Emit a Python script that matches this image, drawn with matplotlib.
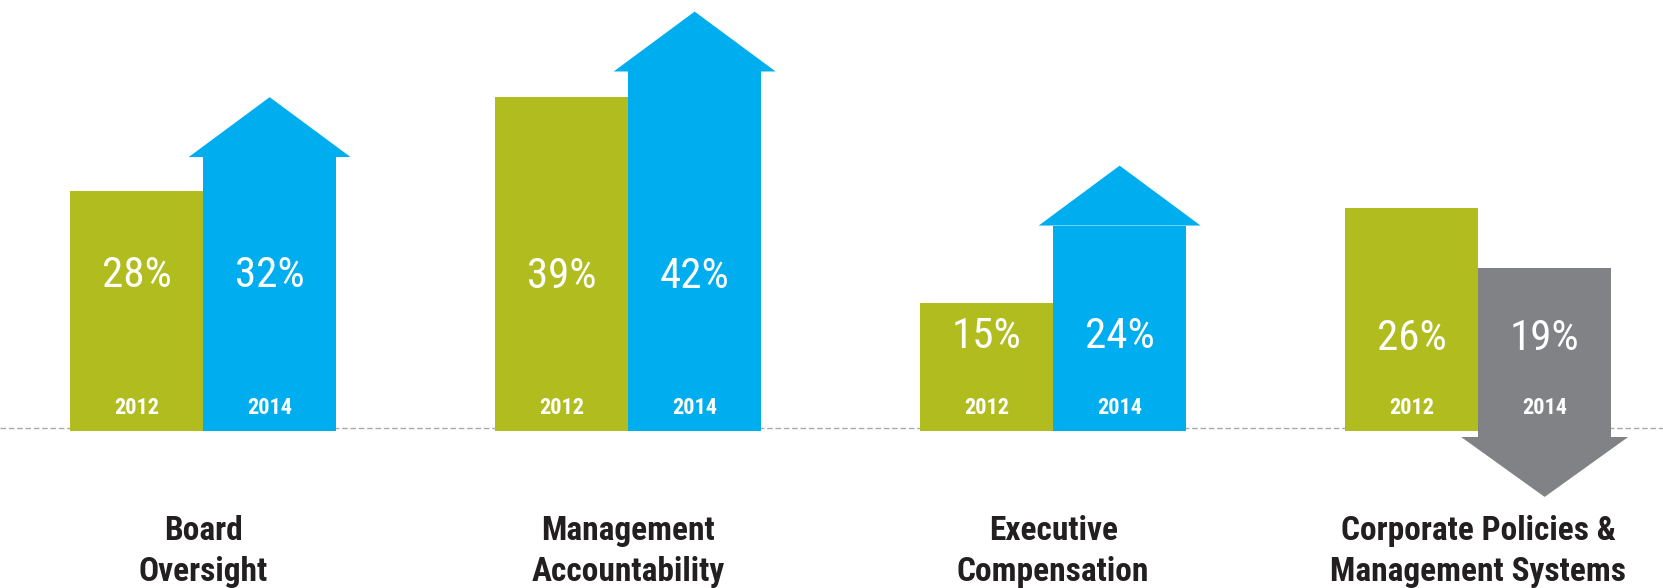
import matplotlib
matplotlib.use("Agg")

import matplotlib.pyplot as plt
from matplotlib.patches import Polygon

# ---------------------------
# Data
# ---------------------------
categories = ["Board\nOversight", "Management\nAccountability",
              "Executive\nCompensation", "Corporate Policies &\nManagement Systems"]
values_2012 = [28, 39, 15, 26]
values_2014 = [32, 42, 24, 19]
years = ["2012", "2014"]

# ---------------------------
# Style / layout
# ---------------------------
GREEN = "#B1BC1F"
BLUE = "#00AEEF"
GREY = "#808285"
TEXT_DARK = "#231F20"

BAR_W = 0.313          # width of one bar (group spacing = 1)
HEAD_OVER = 0.034      # how far an arrow head sticks out on each side
HEAD_H = 7.0           # arrow head height in value units
PCT_Y = [18.2, 18.0, 11.0, 10.8]   # where the percent labels sit
YEAR_Y = 2.7

NARROW = ["Roboto Condensed", "Roboto", "DejaVu Sans"]

fig = plt.figure(figsize=(16.63, 5.88), dpi=100)
ax = fig.add_axes([0, 0, 1, 1])
ax.set_xlim(-0.478, 3.435)
ax.set_ylim(-18.34, 50.35)
ax.axis("off")

# dashed baseline across the whole figure
ax.axhline(0.3, color="#A7A9AC", lw=1.0, ls=(0, (4, 2)), zorder=0)

x = list(range(len(categories)))
ax.bar([i - BAR_W / 2 for i in x], values_2012, width=BAR_W, color=GREEN,
       linewidth=0, zorder=2)

for i, (old, new) in enumerate(zip(values_2012, values_2014)):
    left, right = i, i + BAR_W
    mid = (left + right) / 2
    if new >= old:
        col = BLUE
        ax.bar(mid, new, width=BAR_W, color=col, linewidth=0, zorder=2)
        head = [(left - HEAD_OVER, new), (right + HEAD_OVER, new), (mid, new + HEAD_H)]
    else:
        col = GREY
        ax.bar(mid, new + 0.7, bottom=-0.7, width=BAR_W, color=col,
               linewidth=0, zorder=2)
        head = [(left - HEAD_OVER - 0.006, -0.7), (right + HEAD_OVER + 0.006, -0.7),
                (mid, -0.7 - HEAD_H)]
    ax.add_patch(Polygon(head, closed=True, facecolor=col, edgecolor="none", zorder=2))

    # percent labels
    ax.text(i - BAR_W / 2, PCT_Y[i], f"{old}%", color="white", fontsize=31,
            family=NARROW, ha="center", va="center", zorder=3)
    ax.text(mid, PCT_Y[i], f"{new}%", color="white", fontsize=31,
            family=NARROW, ha="center", va="center", zorder=3)

    # year labels
    ax.text(i - BAR_W / 2, YEAR_Y, years[0], color="white", fontsize=16,
            fontweight="bold", family=NARROW, ha="center", va="center", zorder=3)
    ax.text(mid, YEAR_Y, years[1], color="white", fontsize=16,
            fontweight="bold", family=NARROW, ha="center", va="center", zorder=3)

    # category label
    ax.text(i, -14.1, categories[i], color=TEXT_DARK, fontsize=24,
            fontweight="bold", family=NARROW, ha="center", va="center",
            linespacing=1.35)

fig.savefig("out.png", dpi=100, facecolor="white")
plt.close(fig)
